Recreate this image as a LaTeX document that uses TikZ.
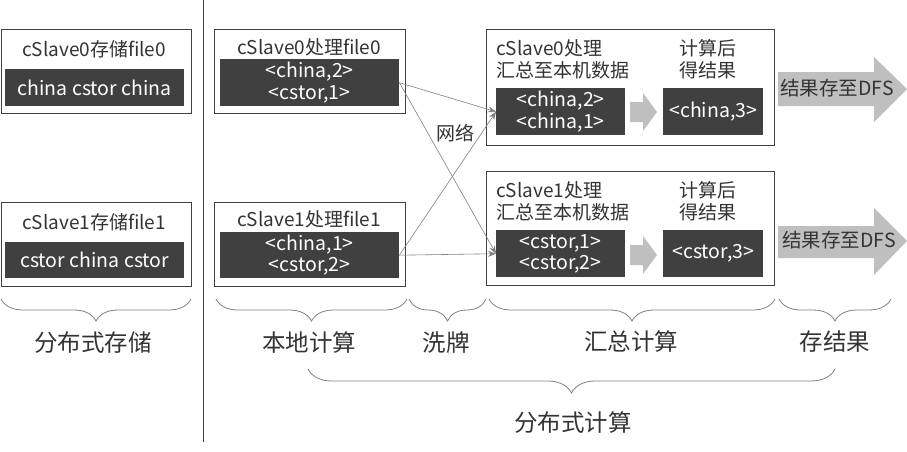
\documentclass[tikz,border=0pt]{standalone}
\usepackage{fontspec}
\setmainfont{Noto Sans CJK SC}
\usetikzlibrary{decorations.pathreplacing,arrows.meta}

\definecolor{scuro}{HTML}{404040}
\definecolor{grigio}{HTML}{BFBFBF}
\definecolor{linea}{HTML}{808080}
\definecolor{testo}{HTML}{333333}

\begin{document}
\begin{tikzpicture}[x=1pt,y=-1pt,
		cornice/.style={draw=scuro,line width=1pt,anchor=north west,inner sep=0pt},
		dati/.style={fill=scuro,text=white,anchor=north west,align=center,inner sep=0pt,font=\fontsize{19.5}{21.5}\selectfont},
		titolo/.style={text=testo,inner sep=0pt,font=\fontsize{19}{22}\selectfont},
		graffa/.style={draw=linea,line width=0.8pt,decorate,decoration={brace,mirror,amplitude=#1}},
		etichetta/.style={text=testo,inner sep=0pt,font=\fontsize{23.5}{26}\selectfont},
		freccia/.style={draw=linea,line width=0.6pt,-{Stealth[length=8pt,width=6pt]}}]

		\useasboundingbox (0,0) rectangle (907,452);

		% archiviazione
		\node[cornice,minimum width=190pt,minimum height=84pt] (st0) at (0.5,29) {};
		\node[titolo] (st0t) at (94,49) {cSlave0存储file0};
		\node[dati,minimum width=179pt,minimum height=37pt] (st0d) at (5,69) {china cstor china};

		\node[cornice,minimum width=190pt,minimum height=84pt] (st1) at (0.5,202) {};
		\node[titolo] (st1t) at (94,222) {cSlave1存储file1};
		\node[dati,minimum width=179pt,minimum height=36pt] (st1d) at (5,242) {cstor china cstor};

		\draw[scuro,line width=1pt] (203.5,0) -- (203.5,442); %Separatore

		% calcolo locale
		\node[cornice,minimum width=191pt,minimum height=84pt] (loc0) at (214,29) {};
		\node[titolo] (loc0t) at (309,47) {cSlave0处理file0};
		\node[dati,minimum width=179pt,minimum height=47pt] (loc0d) at (220,59) {<china,2>\\<cstor,1>};

		\node[cornice,minimum width=191pt,minimum height=84pt] (loc1) at (214,202) {};
		\node[titolo] (loc1t) at (309,219) {cSlave1处理file1};
		\node[dati,minimum width=179pt,minimum height=46pt] (loc1d) at (220,232) {<china,1>\\<cstor,2>};

		% riepilogo
		\node[cornice,minimum width=288pt,minimum height=116pt] (sum0) at (486,29) {};
		\node[titolo,anchor=west,align=left] (sum0t) at (496,59) {cSlave0处理\\汇总至本机数据};
		\node[titolo,anchor=west,align=left] (sum0r) at (679,59) {计算后\\得结果};
		\node[dati,minimum width=129pt,minimum height=47pt] (sum0d) at (496,88) {<china,2>\\<china,1>};
		\node[dati,minimum width=100pt,minimum height=47pt] (res0) at (663,88) {<china,3>};
		\fill[grigio] (630,102) -- (643,102) -- (643,93) -- (657,112) -- (643,131) -- (643,122) -- (630,122) -- cycle;

		\node[cornice,minimum width=288pt,minimum height=114pt] (sum1) at (486,171) {};
		\node[titolo,anchor=west,align=left] (sum1t) at (496,201) {cSlave1处理\\汇总至本机数据};
		\node[titolo,anchor=west,align=left] (sum1r) at (679,201) {计算后\\得结果};
		\node[dati,minimum width=129pt,minimum height=47pt] (sum1d) at (496,230) {<cstor,1>\\<cstor,2>};
		\node[dati,minimum width=100pt,minimum height=47pt] (res1) at (663,230) {<cstor,3>};
		\fill[grigio] (630,245) -- (643,245) -- (643,236) -- (657,255) -- (643,274) -- (643,265) -- (630,265) -- cycle;

		% rete
		\draw[freccia] (loc0d.east) -- (sum0d.west);
		\draw[freccia] (loc0d.east) -- (sum1d.west);
		\draw[freccia] (loc1d.east) -- (sum0d.west);
		\draw[freccia] (loc1d.east) -- (sum1d.west);
		\node[titolo] (rete) at (455,133) {网络};

		% salvataggio
		\fill[grigio] (778,72) -- (874,72) -- (874,57) -- (907,89) -- (874,122) -- (874,106) -- (778,106) -- cycle;
		\node[titolo,font=\fontsize{19.5}{22}\selectfont] (dfs0) at (837,88) {结果存至DFS};
		\fill[grigio] (778,226) -- (874,226) -- (874,208) -- (907,241) -- (874,275) -- (874,258) -- (778,258) -- cycle;
		\node[titolo,font=\fontsize{19.5}{22}\selectfont] (dfs1) at (839,240) {结果存至DFS};

		% graffe
		\draw[graffa=22pt] (1,299) -- (191,299);
		\draw[graffa=22pt] (216,299) -- (407,299);
		\draw[graffa=22pt] (409,299) -- (486,299);
		\draw[graffa=22pt] (489,299) -- (775,299);
		\draw[graffa=22pt] (779,299) -- (891,299);
		\node[etichetta] (g1) at (93,343) {分布式存储};
		\node[etichetta] (g2) at (309,343) {本地计算};
		\node[etichetta] (g3) at (446,343) {洗牌};
		\node[etichetta] (g4) at (631,342) {汇总计算};
		\node[etichetta] (g5) at (835,342) {存结果};

		\draw[graffa=24pt] (308,369) -- (835,369);
		\node[etichetta] (g6) at (573,423) {分布式计算};

	\end{tikzpicture}
\end{document}
